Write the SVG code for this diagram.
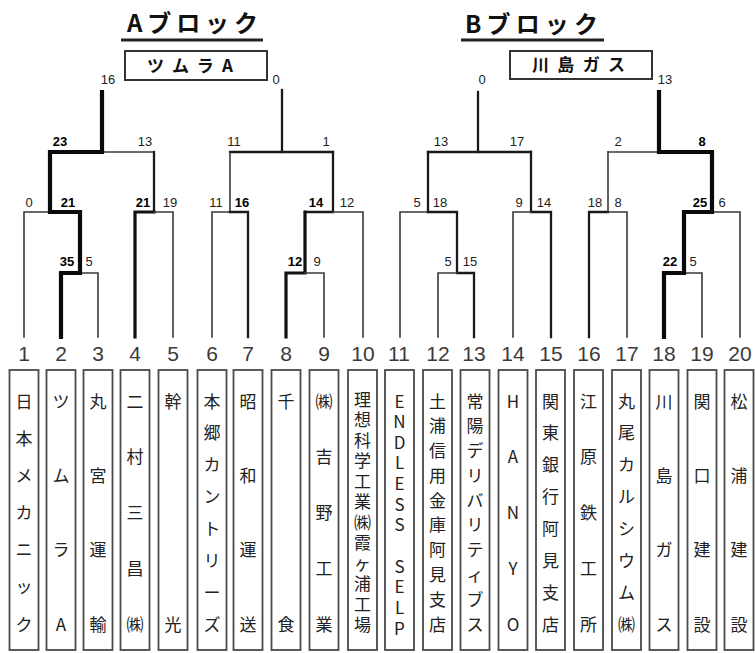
<svg xmlns="http://www.w3.org/2000/svg" width="755" height="653" viewBox="0 0 755 653">
<defs>
<style>
.t{fill:none;stroke:#3a3a3a;stroke-width:1.6;stroke-linecap:square}
.m{fill:none;stroke:#1a1a1a;stroke-width:2.3;stroke-linecap:square}
.h{fill:none;stroke:#111;stroke-width:3.2;stroke-linecap:square}
.k{fill:none;stroke:#0a0a0a;stroke-width:4.2;stroke-linecap:square}
.sc{font-family:"Liberation Sans","Noto Sans",sans-serif;font-size:13px;fill:#222;text-anchor:middle}
.sc.b{font-weight:bold;fill:#000}
.num{font-family:"Liberation Sans","Noto Sans",sans-serif;font-size:21px;fill:#3a3a3a;text-anchor:middle}
.box{fill:#fff;stroke:#4a4a4a;stroke-width:1.8}
.nm{font-family:"Noto Sans CJK JP","Noto Sans",sans-serif;font-size:17px;fill:#222;text-anchor:middle;dominant-baseline:central}
.hd{font-family:"Noto Sans CJK JP","Noto Sans",sans-serif;font-weight:bold;font-size:24px;fill:#111}
.wb{font-family:"Noto Sans CJK JP","Noto Sans",sans-serif;font-weight:bold;font-size:17px;fill:#111}
.wbox{fill:#fff;stroke:#333;stroke-width:2}
</style>
</defs>
<rect width="755" height="653" fill="#fff"/>

<g id="header-a">
<text class="hd" x="127" y="32" textLength="131" lengthAdjust="spacing">Aブロック</text>
<rect x="121" y="38.5" width="142" height="3" fill="#222"/>
<rect class="wbox" x="125" y="51" width="142" height="29"/>
<text class="wb" x="147" y="71.5" textLength="86" lengthAdjust="spacing">ツムラA</text>
</g>
<g id="header-b">
<text class="hd" x="465" y="33" textLength="133" lengthAdjust="spacing">Bブロック</text>
<rect x="461" y="38.5" width="143" height="3" fill="#222"/>
<rect class="wbox" x="510" y="51" width="142" height="28"/>
<text class="wb" x="532" y="71" textLength="93" lengthAdjust="spacing">川島ガス</text>
</g>

<g id="connectors">
<path class="t" d="M24,337V212H50"/>
<path class="t" d="M98,337V273H80"/>
<path class="t" d="M102,152H154"/>
<path class="m" d="M154,152V212"/>
<path class="h" d="M135,337V212H154"/>
<path class="t" d="M154,212H173V337"/>
<path class="k" d="M61,337V273H80V212H50V152H102V92"/>

<path class="m" d="M282,90V152"/>
<path class="m" d="M230,152H333"/>
<path class="t" d="M230,152V212H212V337"/>
<path class="m" d="M230,212H248V337"/>
<path class="m" d="M333,152V212H305"/>
<path class="t" d="M333,212H363V337"/>
<path class="h" d="M305,212V273H286V337"/>
<path class="t" d="M305,273H324V337"/>

<path class="m" d="M478,92V152"/>
<path class="m" d="M428,152H531"/>
<path class="m" d="M428,152V212"/>
<path class="t" d="M400,337V212H428"/>
<path class="m" d="M428,212H457V273H474V337"/>
<path class="t" d="M438,337V273H457"/>
<path class="m" d="M531,152V212H551V337"/>
<path class="t" d="M513,337V212H531"/>

<path class="t" d="M608,152H659"/>
<path class="t" d="M608,152V212"/>
<path class="m" d="M589,337V212H608"/>
<path class="t" d="M608,212H627V337"/>
<path class="t" d="M684,273H702V337"/>
<path class="t" d="M712,212H740V337"/>
<path class="k" d="M664,337V273H684V212H712V152H659V92"/>
</g>

<g id="scores">
<text class="sc" x="108" y="84">16</text>
<text class="sc" x="276" y="84">0</text>
<text class="sc" x="482" y="84">0</text>
<text class="sc" x="665" y="84">13</text>

<text class="sc b" x="60" y="146">23</text>
<text class="sc" x="145" y="146">13</text>
<text class="sc" x="234" y="146">11</text>
<text class="sc" x="326" y="146">1</text>
<text class="sc" x="441" y="146">13</text>
<text class="sc" x="517" y="146">17</text>
<text class="sc" x="618" y="146">2</text>
<text class="sc b" x="702" y="146">8</text>

<text class="sc" x="29" y="207">0</text>
<text class="sc b" x="68" y="207">21</text>
<text class="sc b" x="143" y="207">21</text>
<text class="sc" x="170" y="207">19</text>
<text class="sc" x="216" y="207">11</text>
<text class="sc b" x="242" y="207">16</text>
<text class="sc b" x="316" y="207">14</text>
<text class="sc" x="347" y="207">12</text>
<text class="sc" x="417" y="207">5</text>
<text class="sc" x="440" y="207">18</text>
<text class="sc" x="519" y="207">9</text>
<text class="sc" x="544" y="207">14</text>
<text class="sc" x="595" y="207">18</text>
<text class="sc" x="618" y="207">8</text>
<text class="sc b" x="700" y="207">25</text>
<text class="sc" x="722" y="207">6</text>

<text class="sc b" x="67" y="266">35</text>
<text class="sc" x="89" y="266">5</text>
<text class="sc b" x="295" y="266">12</text>
<text class="sc" x="317" y="266">9</text>
<text class="sc" x="448" y="266">5</text>
<text class="sc" x="470" y="266">15</text>
<text class="sc b" x="670" y="266">22</text>
<text class="sc" x="693" y="266">5</text>
</g>

<g id="team-1"><text class="num" x="24" y="361">1</text><rect class="box" x="9.5" y="370" width="29" height="280"/>
<text class="nm" x="24 24 24 24 24 24 24" y="400 437.2 474.3 511.5 548.7 585.8 623">日本メカニック</text></g>
<g id="team-2"><text class="num" x="61" y="361">2</text><rect class="box" x="46.5" y="370" width="29" height="280"/>
<text class="nm" x="61 61 61 61" y="400 474.3 548.7 623">ツムラA</text></g>
<g id="team-3"><text class="num" x="98" y="361">3</text><rect class="box" x="83.5" y="370" width="29" height="280"/>
<text class="nm" x="98 98 98 98" y="400 474.3 548.7 623">丸宮運輸</text></g>
<g id="team-4"><text class="num" x="135" y="361">4</text><rect class="box" x="120.5" y="370" width="29" height="280"/>
<text class="nm" x="135 135 135 135 135" y="400 455.8 511.5 567.3 623">二村三昌㈱</text></g>
<g id="team-5"><text class="num" x="173" y="361">5</text><rect class="box" x="158.5" y="370" width="29" height="280"/>
<text class="nm" x="173 173" y="400 623">幹光</text></g>
<g id="team-6"><text class="num" x="212" y="361">6</text><rect class="box" x="197.5" y="370" width="29" height="280"/>
<text class="nm" x="212 212 212 212 212 212 212 212" y="400 431.9 463.7 495.6 527.4 559.3 591.1 623">本郷カントリーズ</text></g>
<g id="team-7"><text class="num" x="248" y="361">7</text><rect class="box" x="233.5" y="370" width="29" height="280"/>
<text class="nm" x="248 248 248 248" y="400 474.3 548.7 623">昭和運送</text></g>
<g id="team-8"><text class="num" x="286" y="361">8</text><rect class="box" x="271.5" y="370" width="29" height="280"/>
<text class="nm" x="286 286" y="400 623">千食</text></g>
<g id="team-9"><text class="num" x="324" y="361">9</text><rect class="box" x="309.5" y="370" width="29" height="280"/>
<text class="nm" x="324 324 324 324 324" y="400 455.8 511.5 567.3 623">㈱吉野工業</text></g>
<g id="team-10"><text class="num" x="363" y="361">10</text><rect class="box" x="348" y="370" width="29" height="280"/>
<text class="nm" x="362.5 362.5 362.5 362.5 362.5 362.5 362.5 362.5 362.5 362.5 362.5 362.5" y="398 418.5 439 459.5 480 500.5 521 541.5 562 582.5 603 623.5">理想科学工業㈱霞ヶ浦工場</text></g>
<g id="team-11"><text class="num" x="399" y="361">11</text><rect class="box" x="385" y="370" width="29" height="280"/>
<text class="nm" x="399.5 399.5 399.5 399.5 399.5 399.5 399.5 399.5 399.5 399.5 399.5 399.5" y="400 420.6 441.3 461.9 482.5 503.2 523.8 544.5 565.1 585.7 606.4 627">ENDLESS SELP</text></g>
<g id="team-12"><text class="num" x="438" y="361">12</text><rect class="box" x="423" y="370" width="29" height="280"/>
<text class="nm" x="437.5 437.5 437.5 437.5 437.5 437.5 437.5 437.5 437.5 437.5" y="400 424.8 449.6 474.3 499.1 523.9 548.7 573.4 598.2 623">土浦信用金庫阿見支店</text></g>
<g id="team-13"><text class="num" x="474" y="361">13</text><rect class="box" x="460.5" y="370" width="29" height="280"/>
<text class="nm" x="475 475 475 475 475 475 475 475 475 475" y="400 424.8 449.6 474.3 499.1 523.9 548.7 573.4 598.2 623">常陽デリバリティブス</text></g>
<g id="team-14"><text class="num" x="513" y="361">14</text><rect class="box" x="498.5" y="370" width="29" height="280"/>
<text class="nm" x="513 513 513 513 513" y="400 455.8 511.5 567.3 623">HANYO</text></g>
<g id="team-15"><text class="num" x="551" y="361">15</text><rect class="box" x="536" y="370" width="29" height="280"/>
<text class="nm" x="550.5 550.5 550.5 550.5 550.5 550.5 550.5 550.5" y="400 431.9 463.7 495.6 527.4 559.3 591.1 623">関東銀行阿見支店</text></g>
<g id="team-16"><text class="num" x="589" y="361">16</text><rect class="box" x="574" y="370" width="29" height="280"/>
<text class="nm" x="588.5 588.5 588.5 588.5 588.5" y="400 455.8 511.5 567.3 623">江原鉄工所</text></g>
<g id="team-17"><text class="num" x="627" y="361">17</text><rect class="box" x="612" y="370" width="29" height="280"/>
<text class="nm" x="626.5 626.5 626.5 626.5 626.5 626.5 626.5 626.5" y="400 431.9 463.7 495.6 527.4 559.3 591.1 623">丸尾カルシウム㈱</text></g>
<g id="team-18"><text class="num" x="664" y="361">18</text><rect class="box" x="649.5" y="370" width="29" height="280"/>
<text class="nm" x="664 664 664 664" y="400 474.3 548.7 623">川島ガス</text></g>
<g id="team-19"><text class="num" x="702" y="361">19</text><rect class="box" x="687.5" y="370" width="29" height="280"/>
<text class="nm" x="702 702 702 702" y="400 474.3 548.7 623">関口建設</text></g>
<g id="team-20"><text class="num" x="740" y="361">20</text><rect class="box" x="724.5" y="370" width="29" height="280"/>
<text class="nm" x="739 739 739 739" y="400 474.3 548.7 623">松浦建設</text></g>
</svg>
